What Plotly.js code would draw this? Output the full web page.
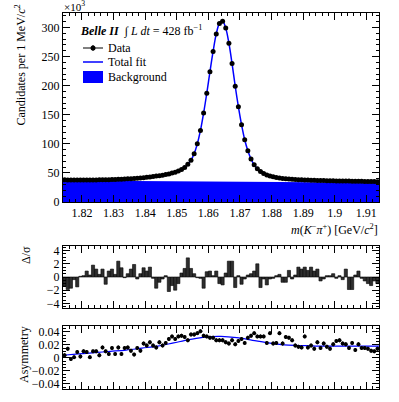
<!DOCTYPE html>
<html>
<head>
<meta charset="utf-8">
<script src="https://cdn.plot.ly/plotly-3.0.1.min.js"></script>
<style>
  body { margin: 0; background: #fff; }
  #plot { width: 399px; height: 402px; }
</style>
</head>
<body>
<div id="plot"></div>
<script>
// 100 bins of 1 MeV, centres from 1.8145 to 1.9135 GeV
const mass = Array.from({length: 100}, (_, i) => +(1.8145 + 0.001 * i).toFixed(4));

// candidates per bin (x10^3)
const candidates = [
  38.2, 38.0, 37.9, 37.9, 37.8, 37.8, 37.8, 37.8, 37.9, 37.9,
  38.0, 38.1, 38.2, 38.3, 38.4, 38.6, 38.8, 39.0, 39.2, 39.5,
  39.8, 40.1, 40.5, 40.9, 41.4, 41.9, 42.5, 43.2, 44.0, 44.9,
  45.0, 46.0, 47.1, 48.3, 49.7, 51.3, 53.2, 55.8, 59.5, 64.8,
  72, 83, 100, 123, 153, 187, 224, 259, 289, 307,
  311, 299, 273, 238, 199, 164, 133, 107, 88, 74,
  64, 57, 52.5, 49, 46.5, 44.7, 43.3, 42.2, 41.3, 40.6,
  40.0, 39.5, 39.1, 38.7, 38.4, 38.1, 37.9, 37.7, 37.5, 37.3,
  37.1, 37.0, 36.8, 36.7, 36.6, 36.4, 36.3, 36.2, 36.1, 36.0,
  35.9, 35.8, 35.7, 35.6, 35.5, 35.4, 35.3, 35.2, 35.1, 35.0
];

// background component
const bkgMass = [1.814, 1.834, 1.854, 1.874, 1.894, 1.914];
const bkgLevel = [36.8, 36.3, 35.7, 35.0, 34.0, 32.8];

// pulls
const pulls = [
  -1.4, -1.9, -1.7, -0.4, -1.5, 0.1, 0.2, 0.9, 0.3, 1.8,
  1.2, 0.4, 1.2, -1.1, 0.9, 1.2, 0.4, 2.4, 1.4, -0.1,
  0.5, 1.2, 1.9, -0.3, 0.5, 1.4, 0.9, 1.5, -0.2, -1.7,
  -0.8, -0.3, 0.2, -2.2, -1.3, -2.0, -1.0, 0.6, 1.3, 2.9,
  1.3, 0.5, -0.1, -0.2, -1.7, 0.8, 0.9, 0.2, 0.9, -1.0,
  -1.2, 0.6, 2.4, 2.4, -1.6, 0.2, -1.1, -0.3, 0.3, 0.5,
  0.9, 2.0, -1.6, -0.3, -1.2, -0.3, -0.2, 0.2, 0.4, -0.8,
  -0.8, 1.0, -0.3, 0.3, 1.5, 1.2, 1.5, 1.0, 1.5, 0.9,
  1.2, -0.6, -0.3, 0.2, 0.2, 0.5, -0.2, 0.2, -0.4, 1.2,
  -1.9, -1.9, 0.3, 0.9, -0.2, -0.6, -1.0, -1.3, -0.6, -1.0
];

// raw asymmetry per bin
const asym = [
  0.004, 0.014, -0.002, 0.001, 0.009, 0.002, 0.010, 0.009, 0.001, 0.010,
  0.010, 0.004, 0.016, 0.010, 0.006, 0.015, 0.006, 0.016, 0.006, 0.015,
  0.016, 0.011, 0.005, 0.015, 0.011, 0.022, 0.019, 0.024, 0.019, 0.016,
  0.024, 0.019, 0.023, 0.029, 0.033, 0.029, 0.033, 0.034, 0.032, 0.027,
  0.036, 0.036, 0.038, 0.041, 0.034, 0.033, 0.031, 0.031, 0.027, 0.027,
  0.027, 0.024, 0.022, 0.027, 0.021, 0.026, 0.029, 0.023, 0.031, 0.034,
  0.038, 0.033, 0.033, 0.033, 0.023, 0.038, 0.022, 0.023, 0.038, 0.022,
  0.032, 0.031, 0.027, 0.019, 0.017, 0.016, 0.033, 0.016, 0.019, 0.014,
  0.024, 0.015, 0.022, 0.017, 0.014, 0.021, 0.026, 0.027, 0.022, 0.021,
  0.015, 0.023, 0.012, 0.021, 0.015, 0.015, 0.014, 0.011, 0.010, 0.014
];

// asymmetry fit curve
const asymFitMass = [1.814, 1.819, 1.824, 1.829, 1.834, 1.839, 1.844, 1.849, 1.854, 1.859, 1.864,
                     1.869, 1.874, 1.879, 1.884, 1.889, 1.894, 1.899, 1.904, 1.909, 1.914];
const asymFit = [0.004, 0.006, 0.008, 0.010, 0.012, 0.015, 0.018, 0.023, 0.028, 0.032, 0.033,
                 0.031, 0.027, 0.023, 0.020, 0.019, 0.018, 0.018, 0.018, 0.018, 0.018];

const FONT = "'Liberation Serif', 'DejaVu Serif', serif";
const BLUE = "rgb(0,0,255)";

let bkgTrace = {
  x: bkgMass, y: bkgLevel, type: "scatter", mode: "lines",
  fill: "tozeroy", fillcolor: BLUE, line: {width: 0, color: BLUE},
  xaxis: "x", yaxis: "y", hoverinfo: "skip"
};
let fitTrace = {
  x: mass, y: candidates, type: "scatter", mode: "lines",
  line: {color: BLUE, width: 1.5, shape: "spline"},
  xaxis: "x", yaxis: "y"
};
let dataTrace = {
  x: mass, y: candidates, type: "scatter", mode: "markers",
  marker: {color: "black", size: 5},
  error_x: {type: "constant", value: 0.0005, width: 0, thickness: 1, color: "black"},
  xaxis: "x", yaxis: "y"
};
let pullTrace = {
  x: mass, y: pulls, type: "bar", width: 0.001,
  marker: {color: "#2e2e2e", line: {color: "black", width: 0.6}},
  xaxis: "x2", yaxis: "y2"
};
let asymTrace = {
  x: mass, y: asym, type: "scatter", mode: "markers",
  marker: {color: "black", size: 4},
  error_y: {type: "constant", value: 0.003, width: 0, thickness: 1.2, color: "black"},
  xaxis: "x3", yaxis: "y3"
};
let asymFitTrace = {
  x: asymFitMass, y: asymFit, type: "scatter", mode: "lines",
  line: {color: BLUE, width: 1.2, shape: "spline"},
  xaxis: "x3", yaxis: "y3"
};

// pixel -> paper helpers (plot area 63..379 x 13..389)
const px = v => (v - 63) / 316;
const py = v => 1 - (v - 13) / 376;

function xAx(anchor, labels) {
  return {
    anchor: anchor, range: [1.814, 1.914], showgrid: false, zeroline: false,
    showline: true, linecolor: "black", linewidth: 1, mirror: "allticks",
    ticks: "inside", ticklen: 7, tickcolor: "black", tick0: 1.82, dtick: 0.01,
    minor: {ticks: "inside", ticklen: 3, dtick: 0.002, tickcolor: "black"},
    showticklabels: labels, tickfont: {family: FONT, size: 12, color: "black"}
  };
}
function yAx(anchor, domain, range, dtick, minor) {
  return {
    anchor: anchor, domain: domain, range: range, showgrid: false, zeroline: false,
    showline: true, linecolor: "black", linewidth: 1, mirror: "allticks",
    ticks: "inside", ticklen: 7, tickcolor: "black", dtick: dtick, tick0: 0,
    minor: {ticks: "inside", ticklen: 3, dtick: minor, tickcolor: "black"},
    tickfont: {family: FONT, size: 12, color: "black"}
  };
}

let layout = {
  width: 399, height: 402,
  margin: {l: 63, r: 20, t: 13, b: 13},
  paper_bgcolor: "white", plot_bgcolor: "white",
  showlegend: false, bargap: 0,
  font: {family: FONT, color: "black"},
  xaxis: xAx("y", true),
  yaxis: yAx("x", [py(202), 1], [0, 325], 50, 10),
  xaxis2: xAx("y2", false),
  yaxis2: yAx("x2", [py(308), py(246)], [-4.7, 4.7], 2, 0.5),
  xaxis3: xAx("y3", false),
  yaxis3: yAx("x3", [0, py(326)], [-0.048, 0.049], 0.02, 0.005),
  annotations: [
    {text: "×10<sup>3</sup>", x: px(62), y: py(6), xref: "paper", yref: "paper",
     xanchor: "left", yanchor: "middle", showarrow: false, font: {size: 11}},
    {text: "Candidates per 1 MeV/<i>c</i><sup>2</sup>", textangle: -90,
     x: px(20), y: py(3), xref: "paper", yref: "paper", xanchor: "center", yanchor: "top",
     showarrow: false, font: {size: 12}},
    {text: "<i>m</i>(<i>K</i><sup>−</sup><i>π</i><sup>+</sup>) [GeV/<i>c</i><sup>2</sup>]",
     x: px(380), y: py(229), xref: "paper", yref: "paper", xanchor: "right", yanchor: "middle",
     showarrow: false, font: {size: 12}},
    {text: "Δ/σ", textangle: -90, x: px(26), y: py(244), xref: "paper", yref: "paper",
     xanchor: "center", yanchor: "top", showarrow: false, font: {size: 12}},
    {text: "Asymmetry", textangle: -90, x: px(24), y: py(355), xref: "paper", yref: "paper",
     xanchor: "center", yanchor: "middle", showarrow: false, font: {size: 12}},
    {text: "<b><i>Belle II</i></b>  ∫ <i>L dt</i> = 428 fb<sup>−1</sup>",
     x: px(78), y: py(31), xref: "paper", yref: "paper", xanchor: "left", yanchor: "middle",
     showarrow: false, font: {size: 12}},
    {text: "Data", x: px(106), y: py(48), xref: "paper", yref: "paper",
     xanchor: "left", yanchor: "middle", showarrow: false, font: {size: 12}},
    {text: "Total fit", x: px(106), y: py(62), xref: "paper", yref: "paper",
     xanchor: "left", yanchor: "middle", showarrow: false, font: {size: 12}},
    {text: "Background", x: px(106), y: py(77), xref: "paper", yref: "paper",
     xanchor: "left", yanchor: "middle", showarrow: false, font: {size: 12}}
  ],
  shapes: [
    {type: "line", xref: "paper", yref: "paper", x0: px(83), x1: px(103), y0: py(48), y1: py(48),
     line: {color: "black", width: 1}},
    {type: "line", xref: "paper", yref: "paper", x0: px(93), x1: px(93), y0: py(45), y1: py(51),
     line: {color: "black", width: 1}},
    {type: "circle", xref: "paper", yref: "paper", x0: px(90.5), x1: px(95.5), y0: py(50.5), y1: py(45.5),
     fillcolor: "black", line: {color: "black", width: 0}},
    {type: "line", xref: "paper", yref: "paper", x0: px(83), x1: px(103), y0: py(62), y1: py(62),
     line: {color: BLUE, width: 1.5}},
    {type: "rect", xref: "paper", yref: "paper", x0: px(83), x1: px(103), y0: py(83), y1: py(71),
     fillcolor: BLUE, line: {width: 0}}
  ]
};

Plotly.newPlot("plot", [bkgTrace, fitTrace, dataTrace, pullTrace, asymFitTrace, asymTrace], layout,
  {displayModeBar: false, staticPlot: true});
</script>
</body>
</html>
